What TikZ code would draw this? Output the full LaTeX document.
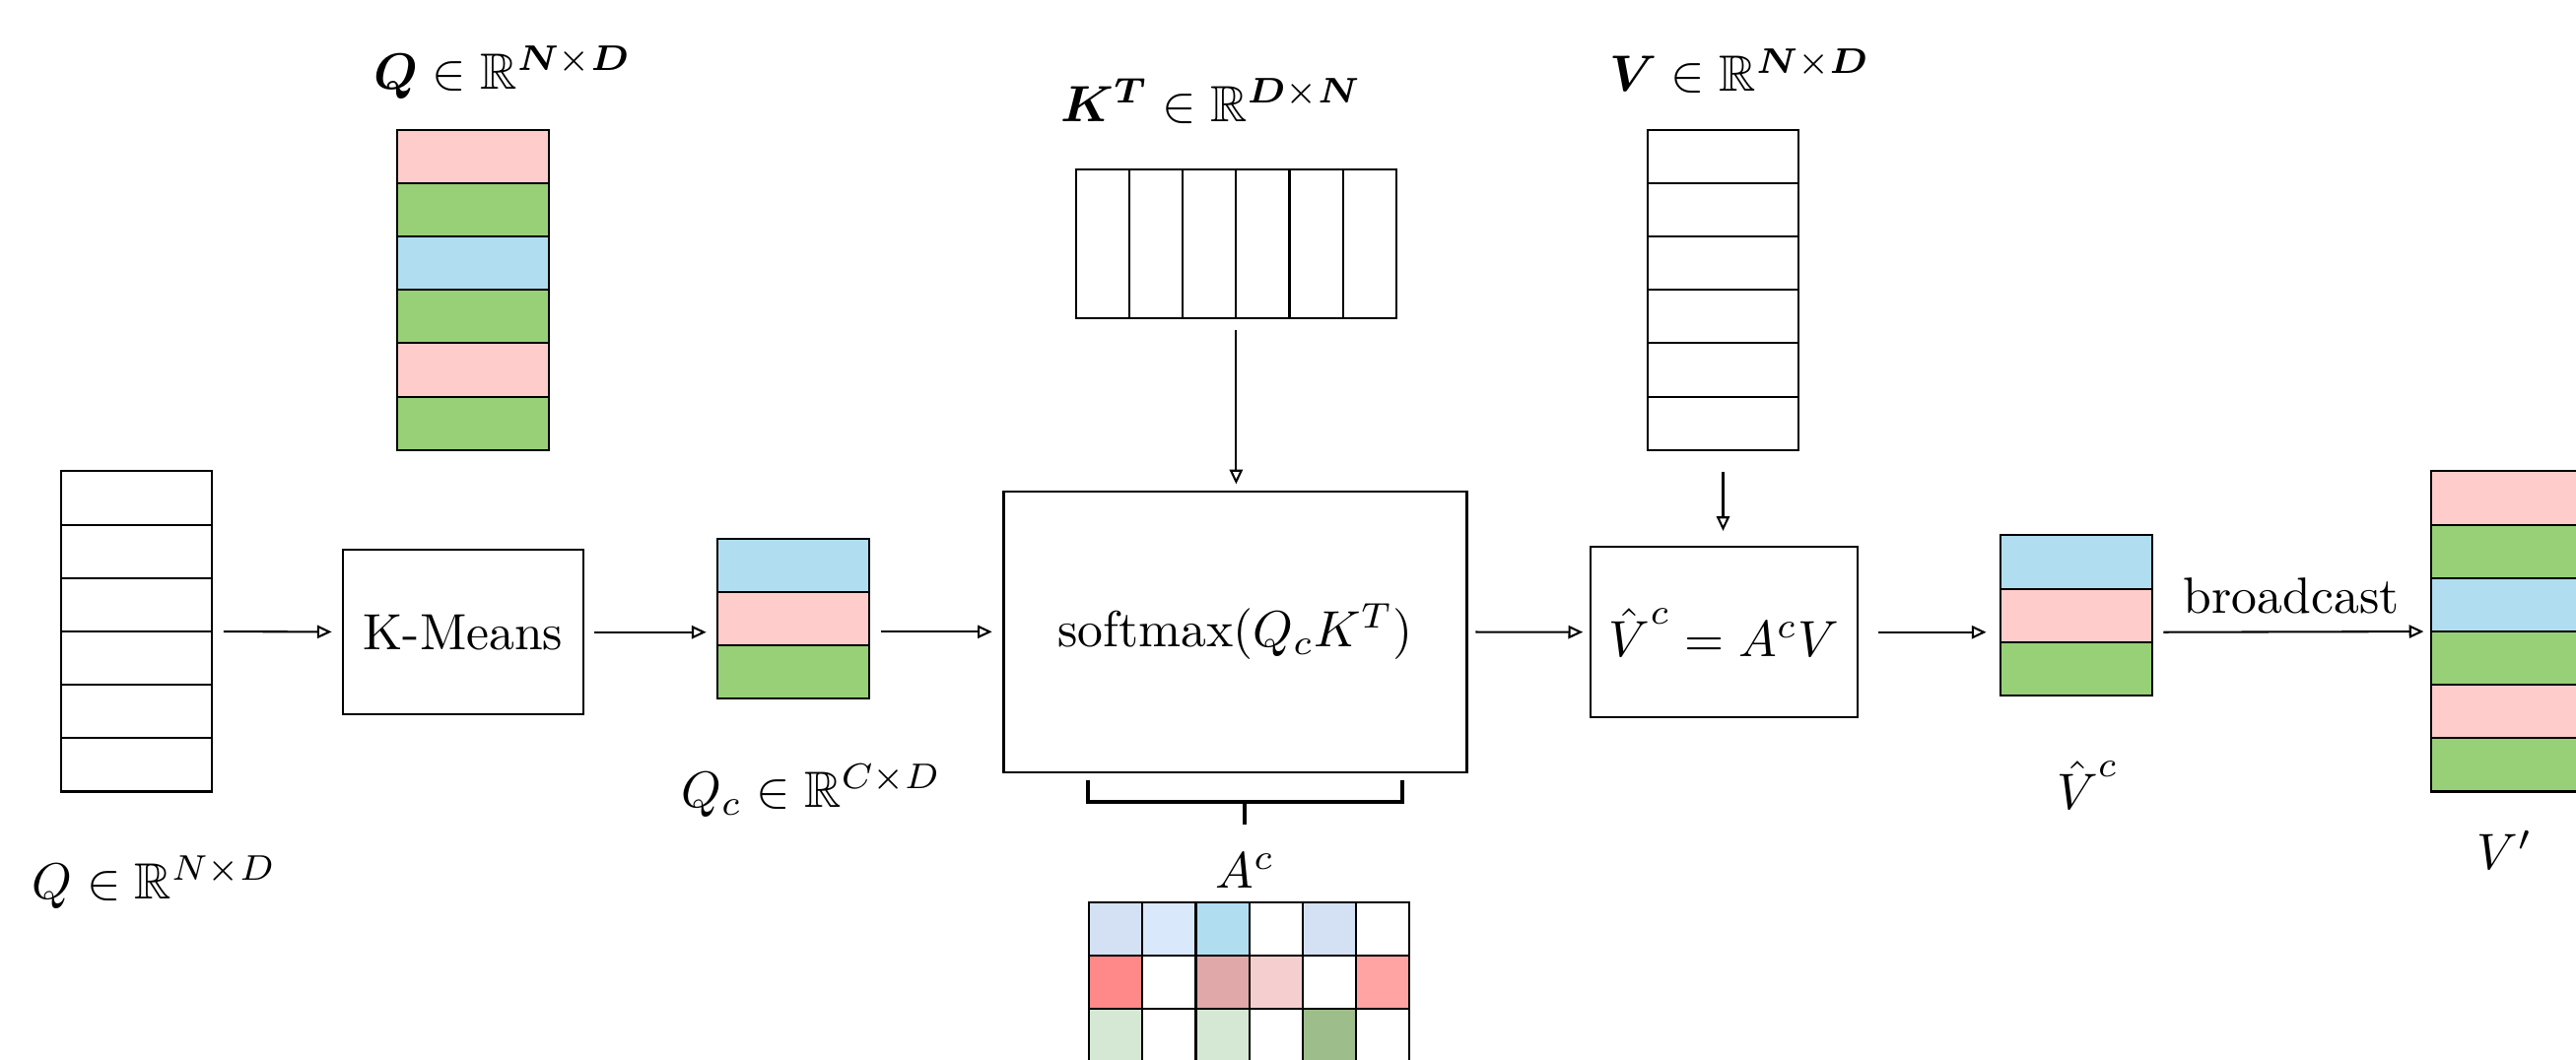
\documentclass[tikz,border=0pt]{standalone}
\usepackage{amssymb}
\usepackage{bm}
\usetikzlibrary{arrows.meta}

\definecolor{qpink}{HTML}{FFCCCC}
\definecolor{qgreen}{HTML}{97D077}
\definecolor{qblue}{HTML}{B1DDF0}
\definecolor{ablue}{HTML}{D4E1F5}
\definecolor{ablue2}{HTML}{DAE8FC}
\definecolor{ared}{HTML}{FF8888}
\definecolor{ared2}{HTML}{E0A8A8}
\definecolor{ared3}{HTML}{F5CFCF}
\definecolor{ared4}{HTML}{FFA3A3}
\definecolor{agreen}{HTML}{D5E8D4}
\definecolor{agreen2}{HTML}{9DBE8A}

\newcommand{\vhatc}{\hat{V}^{\raisebox{2.8pt}{$\scriptstyle c$}}}

\begin{document}
\begin{tikzpicture}[
        cell/.style={
            draw, minimum width=1.043cm, minimum height=0.3685cm, inner sep=0pt, outer sep=0pt
        },
        kcell/.style={
            draw, minimum width=0.3685cm, minimum height=1.032cm, inner sep=0pt, outer sep=0pt
        },
        sqcell/.style={
            draw, minimum size=0.3685cm, inner sep=0pt, outer sep=0pt
        },
        colbox/.style={
            minimum width=1.043cm, inner sep=0pt, outer sep=0pt
        },
        opbox/.style={
            draw, inner sep=0pt, outer sep=0pt
        },
        flow/.style={
            -{Triangle[open, length=1mm, width=0.9mm]}, shorten <=0.08cm, shorten >=0.08cm
        },
        brk/.style={
            line width=0.7pt
        }
    ]
    \useasboundingbox (0, 0) rectangle (17.78, -7.313);

    % columns
    \node[colbox, minimum height=2.211cm] (qin) at (0.941, -4.359) {};
    \foreach \i in {1,...,6}
        \node[cell] (qin-\i) at (0.941, {-3.254-(\i-0.5)*0.3685}) {};

    \node[colbox, minimum height=2.211cm] (qtop) at (3.265, -2.002) {};
    \foreach \c [count=\i] in {qpink, qgreen, qblue, qgreen, qpink, qgreen}
        \node[cell, fill=\c] (qtop-\i) at (3.265, {-0.896-(\i-0.5)*0.3685}) {};

    \node[colbox, minimum height=1.1055cm] (qc) at (5.476, -4.272) {};
    \foreach \c [count=\i] in {qblue, qpink, qgreen}
        \node[cell, fill=\c] (qc-\i) at (5.476, {-3.719-(\i-0.5)*0.3685}) {};

    \node[colbox, minimum width=2.211cm, minimum height=1.032cm] (kt) at (8.532, -1.684) {};
    \foreach \j in {1,...,6}
        \node[kcell] (kt-\j) at ({7.426+(\j-0.5)*0.3685}, -1.684) {};

    \node[colbox, minimum height=2.211cm] (v) at (11.893, -2.002) {};
    \foreach \i in {1,...,6}
        \node[cell] (v-\i) at (11.893, {-0.896-(\i-0.5)*0.3685}) {};

    \node[colbox, minimum height=1.1055cm] (vc) at (14.331, -4.252) {};
    \foreach \c [count=\i] in {qblue, qpink, qgreen}
        \node[cell, fill=\c] (vc-\i) at (14.331, {-3.696-(\i-0.5)*0.3685}) {};

    \node[colbox, minimum height=2.211cm] (vp) at (17.30, -4.359) {};
    \foreach \c [count=\i] in {qpink, qgreen, qblue, qgreen, qpink, qgreen}
        \node[cell, fill=\c] (vp-\i) at (17.30, {-3.254-(\i-0.5)*0.3685}) {};

    % attention map
    \foreach \c [count=\j] in {ablue, ablue2, qblue, white, ablue, white}
        \node[sqcell, fill=\c] (a1-\j) at ({7.517+(\j-0.5)*0.3685}, -6.414) {};
    \foreach \c [count=\j] in {ared, white, ared2, ared3, white, ared4}
        \node[sqcell, fill=\c] (a2-\j) at ({7.517+(\j-0.5)*0.3685}, -6.783) {};
    \foreach \c [count=\j] in {agreen, white, agreen, white, agreen2, white}
        \node[sqcell, fill=\c] (a3-\j) at ({7.517+(\j-0.5)*0.3685}, -7.151) {};

    % operations
    \node[opbox, minimum width=1.655cm, minimum height=1.134cm] (km) at (3.197, -4.365) {K-Means};
    \node[opbox, minimum width=3.197cm, minimum height=1.939cm] (sm) at (8.526, -4.362) {softmax$(Q_cK^T)$};
    \node[opbox, minimum width=1.848cm, minimum height=1.179cm] (vh) at (11.899, -4.365) {$\vhatc = A^cV$};

    % labels
    \node (qtoplab) at (3.47, -0.50) {$\bm{Q} \in \mathbb{R}^{\bm{N}\times\bm{D}}$};
    \node (ktlab) at (8.36, -0.70) {$\bm{K}^{\bm{T}} \in \mathbb{R}^{\bm{D}\times\bm{N}}$};
    \node (vlab) at (12.01, -0.49) {$\bm{V} \in \mathbb{R}^{\bm{N}\times\bm{D}}$};
    \node (qinlab) at (1.066, -6.09) {$Q \in \mathbb{R}^{N\times D}$};
    \node (qclab) at (5.60, -5.46) {$Q_c \in \mathbb{R}^{C\times D}$};
    \node (aclab) at (8.594, -6.01) {$A^c$};
    \node (vclab) at (14.41, -5.42) {$\vhatc$};
    \node (vplab) at (17.29, -5.87) {$V'$};

    % arrows
    \draw[flow] (qin) -- (km);
    \draw[flow] (km) -- (km -| qc.west);
    \draw[flow] (qc.east |- sm) -- (sm);
    \draw[flow, shorten <=0.06cm, shorten >=0.05cm] (sm) -- (vh);
    \draw[flow, shorten <=0.14cm, shorten >=0.1cm] (vh) -- (vh -| vc.west);
    \draw[flow, shorten >=0.05cm] (vc.east |- vh) -- (vp) node[midway, above] {broadcast};
    \draw[flow, shorten >=0.05cm] (kt) -- (kt |- sm.north);
    \draw[flow, shorten <=0.15cm, shorten >=0.11cm] (v) -- (v |- vh.north);

    % brace
    \draw[brk] (7.511, -5.385) -- (7.511, -5.536) -- (9.677, -5.536) -- (9.677, -5.385);
    \draw[brk] (8.591, -5.536) -- (8.591, -5.692);
\end{tikzpicture}
\end{document}
